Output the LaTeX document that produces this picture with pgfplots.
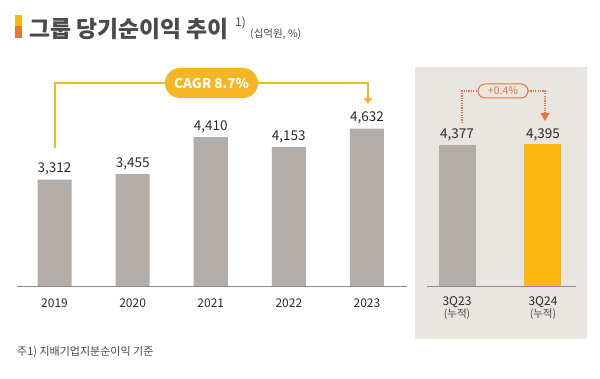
\documentclass[border=0pt]{standalone}
\usepackage{fontspec}
\setmainfont{Noto Sans CJK KR}
\usepackage{pgfplots}
\pgfplotsset{compat=1.18}
\usetikzlibrary{arrows.meta}
\definecolor{bargray}{HTML}{B3ADA9}
\definecolor{baryellow}{HTML}{FBB714}
\definecolor{panelbg}{HTML}{E9E5E0}
\definecolor{cagr}{HTML}{F5B625}
\definecolor{orangeline}{HTML}{E2793A}
\definecolor{markorange}{HTML}{E8772E}
\definecolor{txt}{HTML}{2B2B2B}
\definecolor{titletxt}{HTML}{4A4A4A}
\definecolor{baseline}{HTML}{8A8A8A}
\begin{document}
\begin{tikzpicture}[x=1pt,y=1pt]
\useasboundingbox (0,0) rectangle (600,379);
\fill[white] (0,0) rectangle (600,379);
% right panel background
\fill[panelbg] (415,40) rectangle (587,312);
% title
\fill[baryellow] (15,352.5) rectangle (22,364);
\fill[markorange] (15,341) rectangle (22,352.5);
\node[anchor=west, inner sep=0pt, font=\fontsize{22.8}{26}\selectfont\bfseries, text=titletxt] at (29,350) {그룹 당기순이익 추이};
\node[anchor=west, inner sep=0pt, font=\fontsize{12}{13}\selectfont, text=titletxt] at (235,356) {1)};
\node[anchor=west, inner sep=0pt, font=\fontsize{10.5}{12}\selectfont, text=titletxt] at (250,344.5) {(십억원, \%)};
% footnote
\node[anchor=west, inner sep=0pt, font=\fontsize{11}{12}\selectfont, text=titletxt] at (17,27) {주1) 지배기업지분순이익 기준};

% left chart
\begin{axis}[
  at={(17pt,93pt)}, anchor=south west, scale only axis,
  width=390pt, height=210.2pt,
  xmin=-0.481, xmax=4.513, ymin=561, ymax=6000,
  axis x line*=bottom, axis y line=none,
  x axis line style={draw=baseline, line width=0.8pt},
  ytick=\empty, xtick={0,1,2,3,4},
  xticklabels={2019,2020,2021,2022,2023},
  major tick length=0pt,
  xticklabel style={font=\fontsize{12}{13}\selectfont, text=txt, yshift=-9pt},
  ybar, bar width=34pt,
  nodes near coords,
  nodes near coords style={font=\fontsize{13.5}{15}\selectfont, text=txt, yshift=1pt},
  /pgf/number format/1000 sep={,},
  /pgf/number format/assume math mode=true,
]
\addplot[fill=bargray, draw=none] coordinates {(0,3312) (1,3455) (2,4410) (3,4153) (4,4632)};
\end{axis}

% right chart
\begin{axis}[
  at={(427pt,93pt)}, anchor=south west, scale only axis,
  width=149pt, height=193.3pt,
  xmin=-0.349, xmax=1.384, ymin=0, ymax=6000,
  axis x line*=bottom, axis y line=none,
  x axis line style={draw=baseline, line width=0.8pt},
  ytick=\empty, xtick={0,1},
  xticklabels={{3Q23\\[-1pt]{\fontsize{10.5}{11}\selectfont\color{titletxt}(누적)}},{3Q24\\[-1pt]{\fontsize{10.5}{11}\selectfont\color{titletxt}(누적)}}},
  major tick length=0pt,
  xticklabel style={font=\fontsize{12}{13}\selectfont, text=txt, align=center, yshift=-7pt},
  ybar, bar width=37pt,
  nodes near coords,
  nodes near coords style={font=\fontsize{13.5}{15}\selectfont, text=txt, yshift=0pt},
  /pgf/number format/1000 sep={,},
  /pgf/number format/assume math mode=true,
]
\addplot[fill=bargray, draw=none, bar shift=0pt] coordinates {(0,4377)};
\addplot[fill=baryellow, draw=none, bar shift=0pt] coordinates {(1,4395)};
\end{axis}

% CAGR bracket
\draw[cagr, line width=1.8pt, -{Triangle[width=8pt,length=6pt]}] (55,231) |- (368,296) -- (368,275);
\node[fill=cagr, rounded corners=15pt, minimum width=93pt, minimum height=30pt, text=white, font=\fontsize{13.5}{15}\selectfont\bfseries] at (211.5,296) {CAGR 8.7\%};

% +0.4% bracket
\draw[orangeline, line width=1.5pt, dash pattern=on 1.2pt off 1.2pt] (462,256) |- (478,288);
\draw[orangeline, line width=1.5pt, dash pattern=on 1.2pt off 1.2pt] (528,288) -| (545,265);
\fill[orangeline] (540.5,266) -- (549.5,266) -- (545,258) -- cycle;
\node[draw=orangeline, line width=1pt, fill=panelbg, rounded corners=7pt, minimum width=50pt, minimum height=14pt, inner sep=1pt, text=orangeline, font=\fontsize{10.5}{11}\selectfont] at (503,288) {+0.4\%};
\end{tikzpicture}
\end{document}
